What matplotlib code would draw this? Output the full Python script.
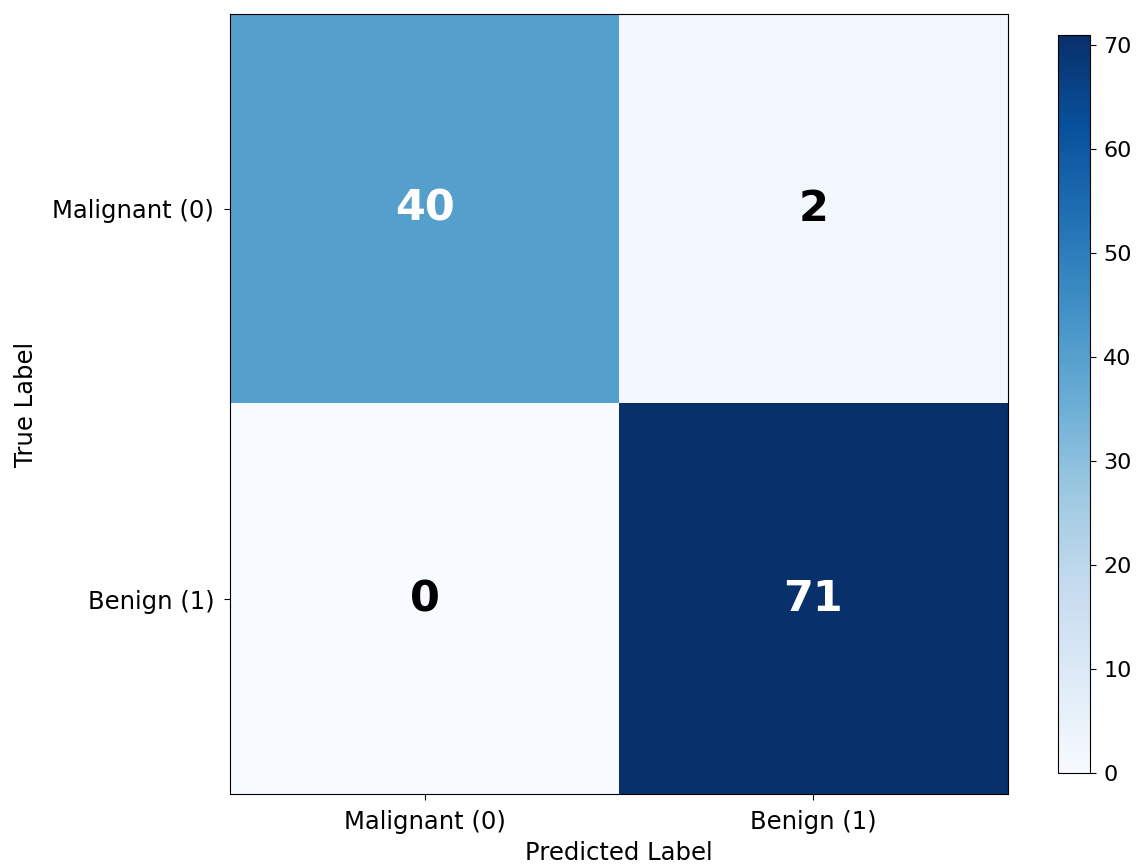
import matplotlib
matplotlib.use("Agg")
import matplotlib.pyplot as plt
import numpy as np

labels = ["Malignant (0)", "Benign (1)"]
cm_row_malignant = [40, 2]
cm_row_benign = [0, 71]

cm = np.array([cm_row_malignant, cm_row_benign])

fig = plt.figure(figsize=(11.45, 8.66), dpi=100)
ax = fig.add_axes([0.201, 0.083, 0.679, 0.901])
cax = fig.add_axes([0.924, 0.107, 0.028, 0.853])

im = ax.imshow(cm, cmap="Blues", aspect="auto", vmin=0, vmax=cm.max())
cb = fig.colorbar(im, cax=cax)
cb.ax.tick_params(labelsize=16, length=4.5, pad=5)

ax.set_xticks(range(len(labels)))
ax.set_yticks(range(len(labels)))
ax.set_xticklabels(labels, fontsize=17.5)
ax.set_yticklabels(labels, fontsize=17.5)
ax.tick_params(length=4.5, pad=7)
ax.set_xlabel("Predicted Label", fontsize=17.5, labelpad=5)
ax.set_ylabel("True Label", fontsize=17.5, labelpad=10)

thresh = cm.max() / 2
for i in range(cm.shape[0]):
    for j in range(cm.shape[1]):
        ax.text(j, i, str(cm[i, j]), ha="center", va="center",
                fontsize=31, fontweight="bold",
                color="white" if cm[i, j] > thresh else "black")

fig.savefig("out.png", dpi=100)
